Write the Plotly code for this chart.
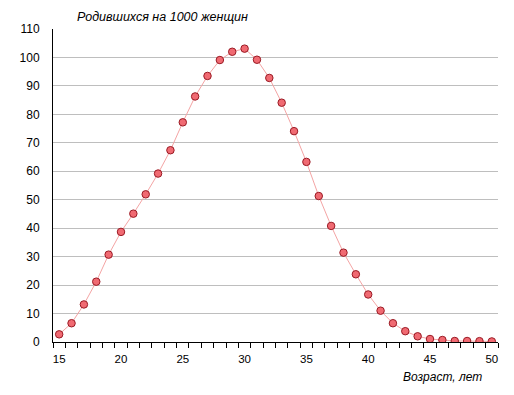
import plotly.graph_objects as go

ages = list(range(15, 51))
births = [2.7, 6.6, 13.2, 21.2, 30.7, 38.7, 45.1, 51.9, 59.2, 67.4,
          77.2, 86.3, 93.5, 99.1, 102.0, 103.1, 99.2, 92.8, 84.1, 74.1,
          63.3, 51.3, 40.8, 31.4, 23.8, 16.7, 11.0, 6.6, 3.8, 2.0,
          1.05, 0.7, 0.35, 0.35, 0.3, 0.2]
x_tick_vals = [15, 20, 25, 30, 35, 40, 45, 50]
y_tick_vals = list(range(0, 111, 10))
y_title = "Родившихся на 1000 женщин"
x_title = "Возраст, лет"

# the page body has an 8px default margin; size the figure to compensate
W, H = 506, 387
L, T = 40, 21
pw, ph = 450, 313
R = W - L - pw
B = H - T - ph
FONT = "Liberation Sans, Arial, sans-serif"

fig = go.Figure()
fig.add_trace(go.Scatter(
    x=ages, y=births, mode="lines+markers",
    line=dict(color="#F4A4A4", width=1),
    marker=dict(size=7.5, color="#F06A72", line=dict(color="#9A1A24", width=1)),
    hoverinfo="skip", showlegend=False,
))

fig.update_layout(
    width=W, height=H,
    margin=dict(l=L, r=R, t=T, b=B),
    paper_bgcolor="white", plot_bgcolor="white",
    font=dict(family=FONT, size=12, color="black"),
    xaxis=dict(
        range=[14.5, 50.5], tickvals=x_tick_vals, ticks="", showgrid=False,
        showline=True, linecolor="black", linewidth=1, zeroline=False,
        tickfont=dict(size=11.5), ticklabelstandoff=6,
        minor=dict(tickvals=[a - 0.5 for a in ages] + [50.5], ticks="outside",
                   ticklen=5, tickcolor="black", tickwidth=1, showgrid=False),
    ),
    yaxis=dict(
        range=[0, 110], tickvals=y_tick_vals, ticks="", showgrid=True,
        gridcolor="#BEBEBE", gridwidth=1, showline=True, linecolor="black",
        linewidth=1, zeroline=False, tickfont=dict(size=12), ticklabelstandoff=10,
    ),
    annotations=[
        dict(text="<i>" + y_title + "</i>", xref="paper", yref="paper",
             x=(151 - L) / pw, y=1 + (T - 9) / ph, showarrow=False,
             font=dict(size=12.5, family=FONT),
             xanchor="center", yanchor="middle"),
        dict(text="<i>" + x_title + "</i>", xref="paper", yref="paper",
             x=(434 - L) / pw, y=-(369 - (T + ph)) / ph, showarrow=False,
             font=dict(size=12, family=FONT), xanchor="center", yanchor="middle"),
    ],
)

fig.write_html("out.html")
